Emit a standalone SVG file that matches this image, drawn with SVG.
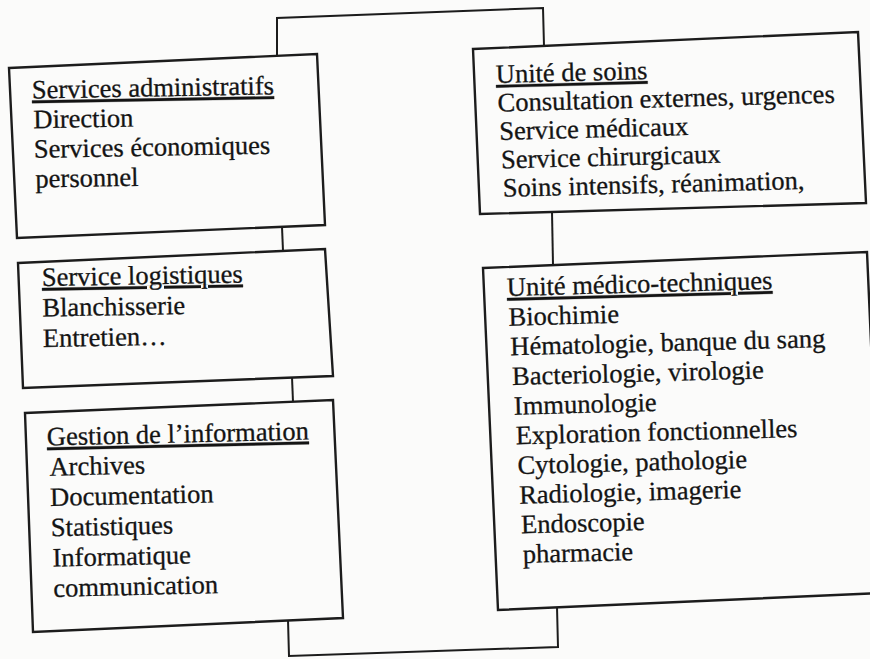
<svg xmlns="http://www.w3.org/2000/svg" width="870" height="659" viewBox="0 0 870 659">
<style>
.box{fill:none;stroke:#1c1c1c;stroke-width:2.4;stroke-linejoin:miter}
.con{fill:none;stroke:#1c1c1c;stroke-width:2}
text{font-family:"Liberation Serif","Times New Roman",serif;font-size:26.5px;fill:#141414;stroke:#141414;stroke-width:0.3}
.t{text-decoration:underline}
</style>
<rect width="870" height="659" fill="#fbfbfa"/>
<g id="connectors">
<polyline class="con" points="277,56 277,18 543,8 544,46"/>
<polyline class="con" points="282,227 283,251"/>
<polyline class="con" points="292,377 293,402"/>
<polyline class="con" points="552,212 553,265"/>
<polyline class="con" points="288,620 289,656 558,647 557,607"/>
</g>
<g id="services-administratifs">
<polygon class="box" points="9,68 317,54 325,225 17,238"/>
<g transform="rotate(-1 32 98.5)">
<text class="t" x="32" y="98.5">Services administratifs</text>
<text x="33" y="128.2">Direction</text>
<text x="33" y="157.9">Services économiques</text>
<text x="34" y="187.6">personnel</text>
</g>
</g>
<g id="service-logistiques">
<polygon class="box" points="18,263 325,249 333,376 23,388"/>
<g transform="rotate(-1 42 286)">
<text class="t" x="42" y="286">Service logistiques</text>
<text x="42" y="316.5">Blanchisserie</text>
<text x="42" y="347">Entretien…</text>
</g>
</g>
<g id="gestion-information">
<polygon class="box" points="25,413 333,400 343,618 33,632"/>
<g transform="rotate(-1.3 47 445.5)">
<text class="t" x="47" y="445.5">Gestion de l’information</text>
<text x="49" y="475.8">Archives</text>
<text x="49" y="506.1">Documentation</text>
<text x="49" y="536.4">Statistiques</text>
<text x="50" y="566.7">Informatique</text>
<text x="50" y="597">communication</text>
</g>
</g>
<g id="unite-de-soins">
<polygon class="box" points="473,49 858,32 866,203 480,214"/>
<g transform="rotate(-1.5 496 83)">
<text class="t" x="496" y="83">Unité de soins</text>
<text x="497" y="111.5">Consultation externes, urgences</text>
<text x="498" y="140">Service médicaux</text>
<text x="499" y="168.5">Service chirurgicaux</text>
<text x="500" y="197">Soins intensifs, réanimation,</text>
</g>
</g>
<g id="unite-medico-techniques">
<polygon class="box" points="483,268 867,252 882,593 498,610"/>
<g transform="rotate(-1.5 507 296)">
<text class="t" x="507" y="296">Unité médico-techniques</text>
<text x="508" y="325.7">Biochimie</text>
<text x="509" y="355.4">Hématologie, banque du sang</text>
<text x="510" y="385.1">Bacteriologie, virologie</text>
<text x="511" y="414.8">Immunologie</text>
<text x="512" y="444.5">Exploration fonctionnelles</text>
<text x="513" y="474.2">Cytologie, pathologie</text>
<text x="514" y="503.9">Radiologie, imagerie</text>
<text x="515" y="533.6">Endoscopie</text>
<text x="516" y="563.3">pharmacie</text>
</g>
</g>
</svg>
